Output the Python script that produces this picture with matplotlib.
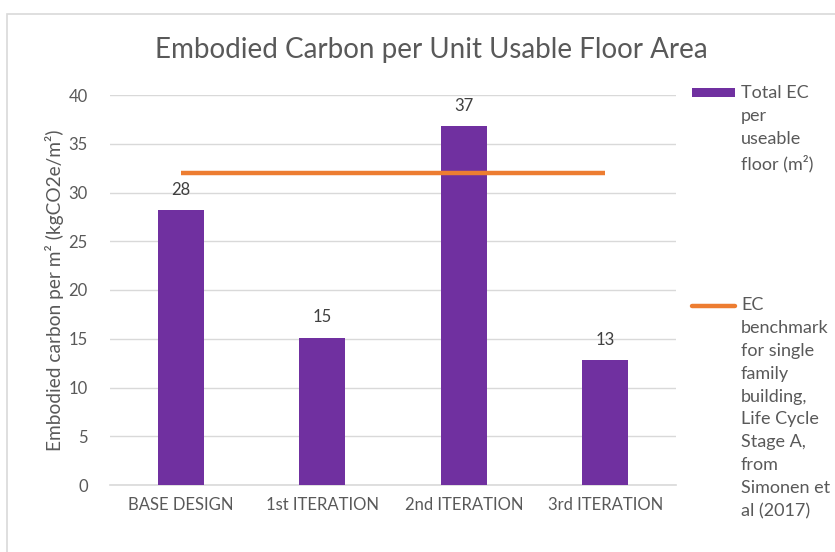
import numpy as np
import matplotlib.pyplot as plt
from matplotlib.patches import Rectangle
from matplotlib.lines import Line2D

categorias = ['BASE DESIGN', '1st ITERATION', '2nd ITERATION', '3rd ITERATION']
ec_total = [28.2, 15.1, 36.8, 12.8]
etiquetas = ['28', '15', '37', '13']
benchmark = [32, 32, 32, 32]

morado = '#7030A0'
naranja = '#ED7D31'
gris = '#595959'

plt.rcParams['font.family'] = ['Lato', 'DejaVu Sans']

fig = plt.figure(figsize=(8.35, 5.52), dpi=100)
W, H = 835, 552

# marco del grafico
fig.add_artist(Rectangle((7 / W, -0.1), 1.0, (552 - 14) / H + 0.1, transform=fig.transFigure,
                         fill=False, edgecolor='#D9D9D9', linewidth=1.2))

ax = fig.add_axes([110 / W, (552 - 485) / H, (676 - 110) / W, (485 - 95) / H])
x = np.arange(len(categorias))
ax.bar(x, ec_total, width=0.325, color=morado, zorder=3)
ax.plot(x, benchmark, color=naranja, linewidth=3.2, solid_capstyle='butt', zorder=4)

for xi, v, t in zip(x, ec_total, etiquetas):
    ax.annotate(t, (xi, v), xytext=(0, 9), textcoords='offset points', ha='center', va='bottom',
                fontsize=12, color='#404040')

ax.set_xlim(-0.5, len(categorias) - 0.5)
ax.set_ylim(0, 40)
ax.set_yticks(range(0, 45, 5))
ax.set_xticks(x)
ax.set_xticklabels(categorias)
ax.yaxis.grid(True, color='#D9D9D9', linewidth=1, zorder=0)
for s in ['top', 'right', 'left']:
    ax.spines[s].set_visible(False)
ax.spines['bottom'].set_color('#D9D9D9')
ax.spines['bottom'].set_linewidth(1.2)
ax.tick_params(axis='both', length=0, labelsize=12, labelcolor=gris)
ax.tick_params(axis='y', pad=16)
ax.tick_params(axis='x', pad=9)
ax.set_ylabel('Embodied carbon per m² (kgCO2e/m²)', fontsize=13.8, color=gris, labelpad=3)

fig.text(431 / W, 1 - 50 / H, 'Embodied Carbon per Unit Usable Floor Area', ha='center', va='center',
         fontsize=20, color=gris)

# leyenda
fig.add_artist(Rectangle((692 / W, 1 - 97 / H), 43 / W, 9 / H, transform=fig.transFigure,
                         facecolor=morado, edgecolor='none'))
fig.text(741 / W, 1 - 85 / H, 'Total EC\nper\nuseable\nfloor (m²)', ha='left', va='top',
         fontsize=13, color=gris, linespacing=1.53)
fig.add_artist(Line2D([692 / W, 735 / W], [1 - 306 / H, 1 - 306 / H], transform=fig.transFigure,
                      color=naranja, linewidth=3.2, solid_capstyle='round'))
fig.text(741 / W, 1 - 297 / H,
         'EC\nbenchmark\nfor single\nfamily\nbuilding,\nLife Cycle\nStage A,\nfrom\nSimonen et\nal (2017)',
         ha='left', va='top', fontsize=13, color=gris, linespacing=1.53)

plt.savefig('out.png', dpi=100)
